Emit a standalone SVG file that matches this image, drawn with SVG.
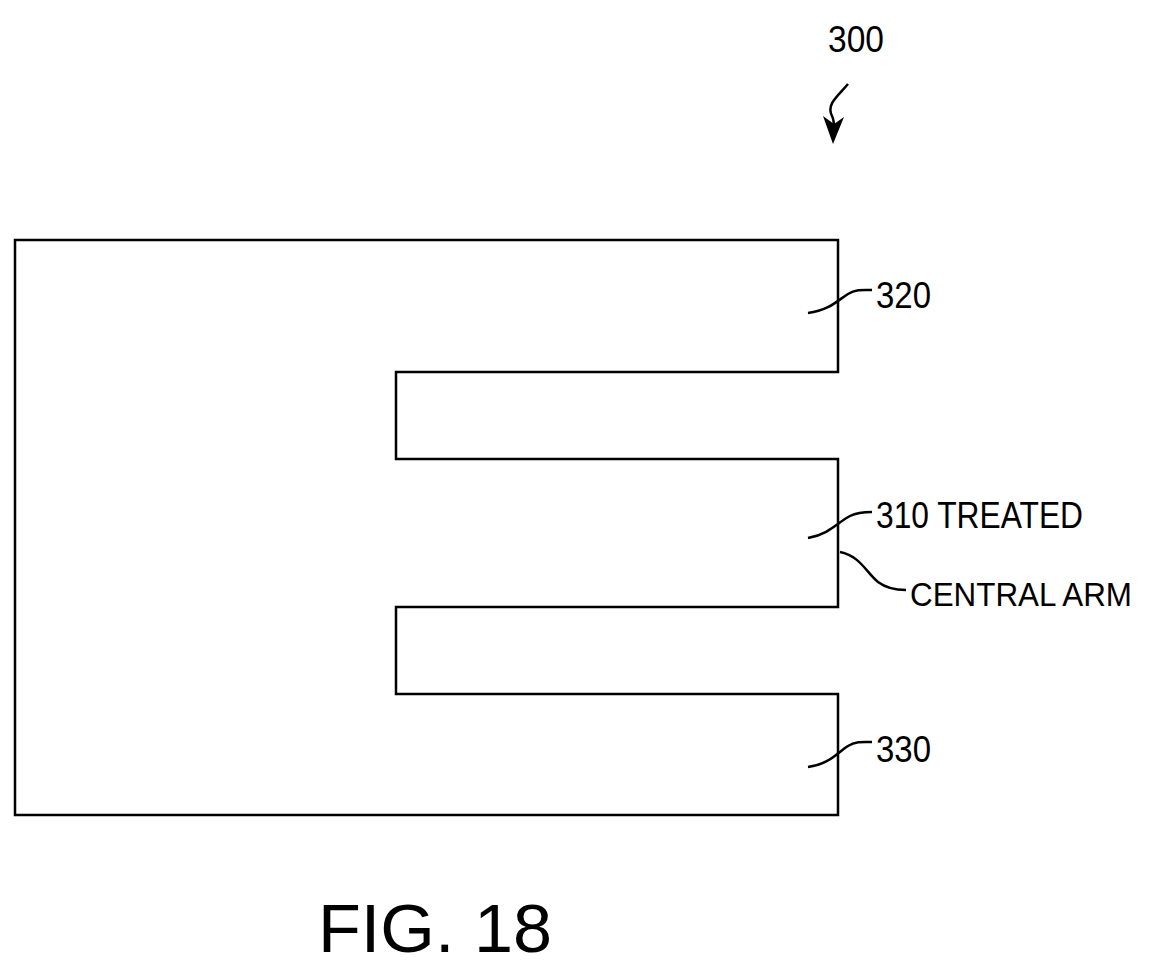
<svg xmlns="http://www.w3.org/2000/svg" width="1154" height="968" viewBox="0 0 1154 968">
<style>
.ln{fill:none;stroke:#000;stroke-width:2.5}
.t{font-family:"Liberation Sans",Arial,sans-serif;font-size:36px;fill:#000}
</style>
<rect width="1154" height="968" fill="#fff"/>
<g id="body300">
<path class="ln" d="M15,240 H838 V372 H396 V459 H838 V607 H396 V694 H838 V815 H15 Z"/>
</g>
<g id="connectors">
<path class="ln" d="M848,84 C838,96 826,104 832,116 C834,120 834,124 834,128"/>
<path d="M823,116 L833,144 L844,117 L834,124 Z" fill="#000"/>
<path class="ln" d="M808,313 C830,310 838,300 848,294 C856,289 864,290 872,290"/>
<path class="ln" d="M808,538 C830,534 838,522 850,516 C858,512 866,512 872,512"/>
<path class="ln" d="M840,552 C860,556 866,572 878,582 C886,588 896,590 906,590"/>
<path class="ln" d="M808,767 C830,764 838,752 848,746 C856,741 864,742 872,742"/>
</g>
<g id="labels">
<text class="t" x="828" y="52" textLength="56" lengthAdjust="spacingAndGlyphs">300</text>
<text class="t" x="876" y="308" textLength="55" lengthAdjust="spacingAndGlyphs">320</text>
<text class="t" x="876" y="528" textLength="207" lengthAdjust="spacingAndGlyphs">310 TREATED</text>
<text class="t" x="910" y="606" style="font-size:34px" textLength="222" lengthAdjust="spacingAndGlyphs">CENTRAL ARM</text>
<text class="t" x="876" y="762" textLength="55" lengthAdjust="spacingAndGlyphs">330</text>
<text class="t" x="318" y="952" style="font-size:68px" textLength="234" lengthAdjust="spacingAndGlyphs">FIG. 18</text>
</g>
</svg>
